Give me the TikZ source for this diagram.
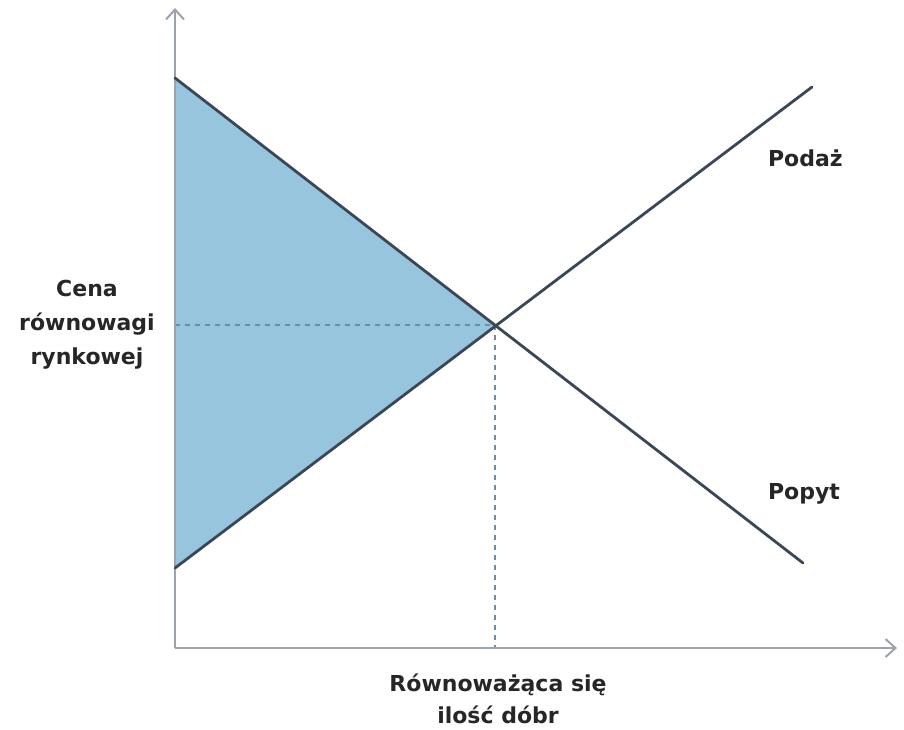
\documentclass[tikz,border=0pt]{standalone}
\usepackage{fontspec}
\setmainfont{DejaVu Sans}
\usetikzlibrary{arrows.meta}
\definecolor{linecol}{HTML}{3B4756}
\definecolor{axiscol}{HTML}{9CA3AC}
\definecolor{fillcol}{HTML}{97C5DE}
\definecolor{dashcol}{HTML}{6C8DAA}
\tikzset{
  axis/.style={axiscol, line width=1pt, -{Straight Barb[length=5pt,width=9pt]}},
  curve/.style={linecol, line width=1.4pt, line cap=round},
  guide/.style={dashcol, line width=0.8pt, dash pattern=on 2.5pt off 2.5pt},
  lbl/.style={font=\fontsize{11}{17}\selectfont\bfseries, align=center, text=black!85}
}
\begin{document}
\begin{tikzpicture}[x=0.5pt,y=-0.5pt]
\useasboundingbox (0,0) rectangle (904,729);
\coordinate (O) at (175,648);
\coordinate (D1) at (175,78);
\coordinate (D2) at (803,563);
\coordinate (S1) at (175,568);
\coordinate (S2) at (812,87);
\coordinate (E) at (495,325);
\coordinate (Ey) at (175,325);
\coordinate (Ex) at (495,648);
\fill[fillcol] (D1) -- (E) -- (S1) -- cycle;
\draw[guide] (Ey) -- (E);
\draw[guide] (E) -- (Ex);
\draw[axis] (O) -- (175,8);
\draw[axis] (O) -- (897,648);
\draw[curve] (D1) -- (D2);
\draw[curve] (S1) -- (S2);
\node[lbl, anchor=west] (supply) at (761,158) {Podaż};
\node[lbl, anchor=west] (demand) at (761,494) {Popyt};
\node[lbl] (price) at (87,325) {Cena\\równowagi\\rynkowej};
\node[lbl, font=\fontsize{11}{16}\selectfont\bfseries] (qty) at (498,699) {Równoważąca się\\ilość dóbr};
\end{tikzpicture}
\end{document}
